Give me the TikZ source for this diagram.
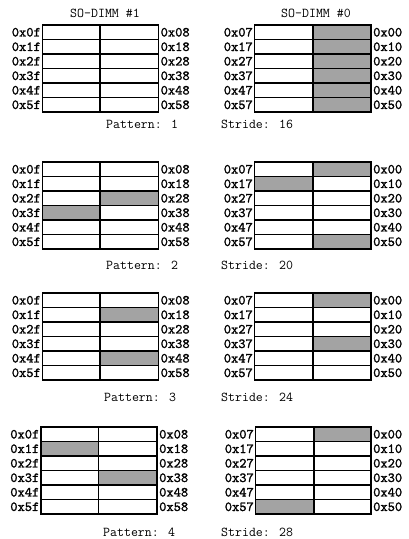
\documentclass[tikz,border=0pt]{standalone}
\usepackage{fontspec}
\newfontfamily\hexfont{lmmono10-regular.otf}[FakeBold=1.5]
\newcommand\rowh{14.5}
% #1 xl, #2 xm, #3 xr, #4 top, #5 left digit, #6 right digit, #7 id
\newcommand\dimmgrid[7]{%
  \draw[cell] (#1,#4) rectangle (#3,{#4+6*\rowh});
  \foreach \r in {1,...,5}{\draw[cell] (#1,{#4+\r*\rowh}) -- (#3,{#4+\r*\rowh});}
  \draw[cell] (#2,#4) -- (#2,{#4+6*\rowh});
  \foreach \r in {0,...,5}{%
    \node[hex,anchor=east] (#7l\r) at ({#1-1.5},{#4+(\r+0.5)*\rowh}) {0x\r#5};
    \node[hex,anchor=west] (#7r\r) at ({#3+2},{#4+(\r+0.5)*\rowh}) {0x\r#6};
  }%
}
% #1 xa, #2 xb, #3 top, #4 row
\newcommand\shadecell[4]{\fill[shadecell] (#1,{#3+#4*\rowh}) rectangle (#2,{#3+(#4+1)*\rowh});}
\begin{document}
\begin{tikzpicture}[x=1pt,y=-1pt,
  hex/.style={font=\hexfont\fontsize{13.8}{14}\selectfont, inner sep=0pt},
  captxt/.style={font=\ttfamily\fontsize{13.5}{14}\selectfont, inner sep=0pt},
  cell/.style={draw=black, line width=1.2pt},
  shadecell/.style={fill=black!36}]
\useasboundingbox (0,0) rectangle (408,539);
% titles
\node[captxt] (t1) at (105,13) {SO-DIMM \#1};
\node[captxt] (t0) at (316,13) {SO-DIMM \#0};
% ---- panel 1
\shadecell{313}{371}{25}{0}\shadecell{313}{371}{25}{1}\shadecell{313}{371}{25}{2}
\shadecell{313}{371}{25}{3}\shadecell{313}{371}{25}{4}\shadecell{313}{371}{25}{5}
\dimmgrid{42.5}{100}{158.5}{25}{f}{8}{a}
\dimmgrid{254.5}{313}{371}{25}{7}{0}{b}
\node[captxt,anchor=west] (p1) at (106,124) {Pattern: 1};
\node[captxt,anchor=west] (s1) at (221,124) {Stride: 16};
% ---- panel 2
\shadecell{100}{158.5}{162}{2}\shadecell{42.5}{100}{162}{3}
\shadecell{313}{371}{162}{0}\shadecell{254.5}{313}{162}{1}\shadecell{313}{371}{162}{5}
\dimmgrid{42.5}{100}{158.5}{162}{f}{8}{c}
\dimmgrid{254.5}{313}{371}{162}{7}{0}{d}
\node[captxt,anchor=west] (p2) at (106,265) {Pattern: 2};
\node[captxt,anchor=west] (s2) at (221,265) {Stride: 20};
% ---- panel 3
\shadecell{100}{158.5}{293}{1}\shadecell{100}{158.5}{293}{4}
\shadecell{313}{371}{293}{0}\shadecell{313}{371}{293}{3}
\dimmgrid{42.5}{100}{158.5}{293}{f}{8}{e}
\dimmgrid{254.5}{313}{371}{293}{7}{0}{g}
\node[captxt,anchor=west] (p3) at (104,397) {Pattern: 3};
\node[captxt,anchor=west] (s3) at (221,397) {Stride: 24};
% ---- panel 4
\shadecell{41}{98.5}{427}{1}\shadecell{98.5}{157}{427}{3}
\shadecell{314}{371}{427}{0}\shadecell{255.5}{314}{427}{5}
\dimmgrid{41}{98.5}{157}{427}{f}{8}{h}
\dimmgrid{255.5}{314}{371}{427}{7}{0}{i}
\node[captxt,anchor=west] (p4) at (103,532) {Pattern: 4};
\node[captxt,anchor=west] (s4) at (221,532) {Stride: 28};
\end{tikzpicture}
\end{document}
